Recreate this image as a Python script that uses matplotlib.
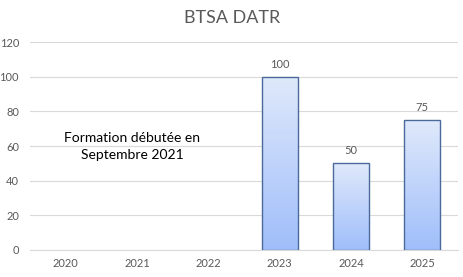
import matplotlib.pyplot as plt
import numpy as np
from matplotlib.colors import LinearSegmentedColormap

plt.rcParams['font.family'] = ['Lato', 'DejaVu Sans']

years = ['2020', '2021', '2022', '2023', '2024', '2025']
values = [0, 0, 0, 100, 50, 75]
title = 'BTSA DATR'
note = 'Formation débutée en\nSeptembre 2021'

fig = plt.figure(figsize=(4.64, 2.77), dpi=100)
ax = fig.add_axes([0.065, 0.0975, 0.922, 0.7505])

x = np.arange(len(years))
grad = LinearSegmentedColormap.from_list('g', ['#a0befa', '#dfe9fb'])
bars = ax.bar(x, values, width=0.5, color='none', edgecolor='#4a6a9c', linewidth=1.0, zorder=3)
for b, v in zip(bars, values):
    if v <= 0:
        b.set_linewidth(0)  # pas d'effectif -> pas de barre
        continue
    x0, y0 = b.get_x(), b.get_y()
    im = ax.imshow(np.linspace(0, 1, 256).reshape(-1, 1), cmap=grad, aspect='auto',
                   origin='lower', extent=[x0, x0 + b.get_width(), y0, y0 + b.get_height()], zorder=2)
    im.set_clip_path(b)
    ax.text(b.get_x() + b.get_width() / 2, v + 4, str(v), ha='center', va='bottom',
            fontsize=8, color='#595959')

ax.set_xlim(-0.5, len(years) - 0.5)
ax.set_ylim(0, 120)
ax.set_yticks(range(0, 121, 20))
ax.set_xticks(x)
ax.set_xticklabels(years)
ax.yaxis.grid(True, color='#d9d9d9', linewidth=0.8, zorder=0)
ax.set_axisbelow(True)
for s in ['top', 'right', 'left']:
    ax.spines[s].set_visible(False)
ax.spines['bottom'].set_color('#d9d9d9')
ax.tick_params(axis='both', length=0, labelsize=8, labelcolor='#595959')
ax.tick_params(axis='y', pad=8)
ax.tick_params(axis='x', pad=6)

ax.text(0.93, 60, note, ha='center', va='center', fontsize=10, color='black', linespacing=1.5)
fig.text(0.5, 0.935, title, ha='center', va='center', fontsize=13, color='#595959')

fig.savefig('out.png', dpi=100)
